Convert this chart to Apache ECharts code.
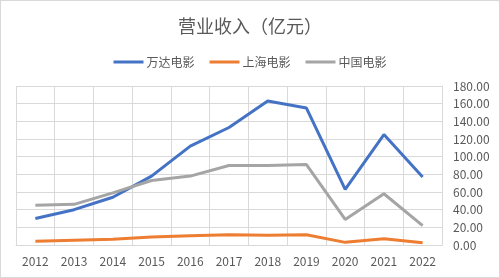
<!DOCTYPE html>
<html>
<head>
<meta charset="utf-8">
<script src="https://cdn.jsdelivr.net/npm/echarts@6/dist/echarts.min.js"></script>
<style>
  html, body { margin: 0; padding: 0; background: #fff; }
  #chart { width: 498px; height: 276px; border: 1px solid #d9d9d9; }
</style>
</head>
<body>
<div id="chart"></div>
<script>
var years = ['2012', '2013', '2014', '2015', '2016', '2017', '2018', '2019', '2020', '2021', '2022'];
var wanda = [30, 40, 54, 78, 112, 133, 163, 155, 63, 125, 77];
var shanghai = [4.2, 5.5, 6.6, 9, 10.5, 11.7, 11, 11.5, 3, 7, 2.5];
var zhongying = [45, 46, 59, 73, 78, 90, 90, 91, 29, 58, 22];
var names = ['万达电影', '上海电影', '中国电影'];
var colors = ['#4472C4', '#ED7D31', '#A5A5A5'];

var chart = echarts.init(document.getElementById('chart'));
var font = '"Noto Sans CJK SC", sans-serif';
chart.setOption({
  animation: false,
  color: colors,
  title: {
    text: '营业收入（亿元）',
    left: 'center',
    top: 11,
    textStyle: { color: '#595959', fontSize: 18, fontWeight: 'normal', fontFamily: font }
  },
  legend: {
    top: 50,
    left: 'center',
    itemWidth: 30,
    itemHeight: 3,
    itemGap: 15,
    icon: 'rect',
    textStyle: { color: '#595959', fontSize: 12, fontFamily: font, padding: [0, 0, 0, -2] },
    data: names
  },
  grid: { left: 15, right: 57, top: 85, bottom: 32 },
  xAxis: {
    type: 'category',
    data: years,
    boundaryGap: true,
    axisTick: { show: false },
    axisLine: { lineStyle: { color: '#d9d9d9' } },
    axisLabel: { color: '#595959', fontSize: 12, margin: 10, fontFamily: font },
    splitLine: { show: true, lineStyle: { color: '#d9d9d9' } }
  },
  yAxis: {
    type: 'value',
    position: 'right',
    min: 0,
    max: 180,
    interval: 20,
    axisLine: { show: true, lineStyle: { color: '#d9d9d9' } },
    axisTick: { show: false },
    axisLabel: {
      color: '#595959', fontSize: 12, margin: 11, fontFamily: font,
      formatter: function (v) { return v.toFixed(2); }
    },
    splitLine: { lineStyle: { color: '#d9d9d9' } }
  },
  series: [
    { name: names[0], type: 'line', data: wanda, showSymbol: false, lineStyle: { width: 3 } },
    { name: names[1], type: 'line', data: shanghai, showSymbol: false, lineStyle: { width: 3 } },
    { name: names[2], type: 'line', data: zhongying, showSymbol: false, lineStyle: { width: 3 } }
  ]
});
</script>
</body>
</html>
